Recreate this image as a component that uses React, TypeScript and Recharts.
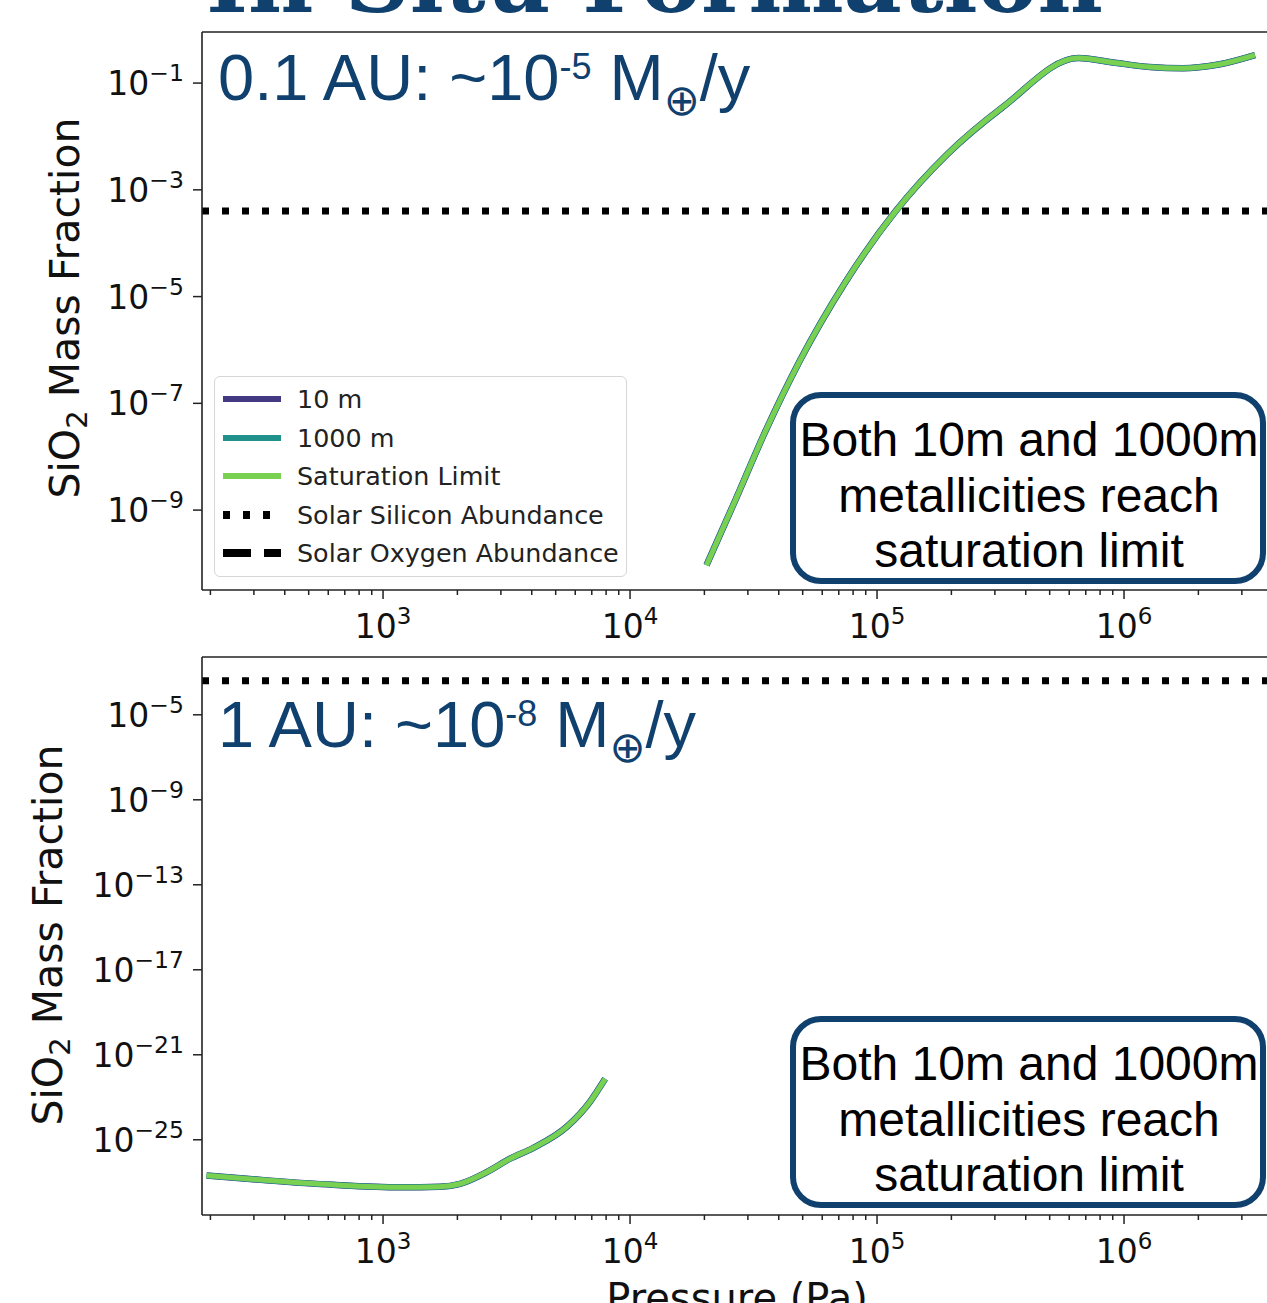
import React from 'react';
import { LineChart, Line, XAxis, YAxis, ReferenceLine } from 'recharts';

// 0.1 AU panel
const topPressure = [2.04e4, 2.66e4, 3.47e4, 4.88e4, 7.4e4, 1.19e5, 1.93e5, 3.23e5, 6.52e5, 9.38e5, 1.27e6, 1.73e6, 2.38e6, 3.39e6];
const topSaturation = [9.3e-11, 1.48e-9, 2.5e-8, 6.4e-7, 1.78e-5, 4.0e-4, 4.7e-3, 3.55e-2, 2.95e-1, 2.37e-1, 2.0e-1, 1.9e-1, 2.2e-1, 3.35e-1];
// 10 m and 1000 m runs lie right under the saturation limit
const top10m = [9.3e-11, 1.48e-9, 2.5e-8, 6.4e-7, 1.78e-5, 4.0e-4, 4.7e-3, 3.55e-2, 2.95e-1, 2.37e-1, 2.0e-1, 1.9e-1, 2.2e-1, 3.35e-1];
const top1000m = [9.3e-11, 1.48e-9, 2.5e-8, 6.4e-7, 1.78e-5, 4.0e-4, 4.7e-3, 3.55e-2, 2.95e-1, 2.37e-1, 2.0e-1, 1.9e-1, 2.2e-1, 3.35e-1];

// 1 AU panel
const bottomPressure = [193, 338, 628, 1172, 1702, 2051, 2630, 3266, 4064, 5546, 6887, 7925];
const bottomSaturation = [2.1e-27, 1.23e-27, 7.6e-28, 5.8e-28, 6.2e-28, 8.5e-28, 3.0e-27, 1.29e-26, 4.2e-26, 4.1e-25, 6.2e-24, 7.4e-23];
const bottom10m = [2.1e-27, 1.23e-27, 7.6e-28, 5.8e-28, 6.2e-28, 8.5e-28, 3.0e-27, 1.29e-26, 4.2e-26, 4.1e-25, 6.2e-24, 7.4e-23];
const bottom1000m = [2.1e-27, 1.23e-27, 7.6e-28, 5.8e-28, 6.2e-28, 8.5e-28, 3.0e-27, 1.29e-26, 4.2e-26, 4.1e-25, 6.2e-24, 7.4e-23];

const solarSilicon = 4e-4;

const xMajorTicks = [1e3, 1e4, 1e5, 1e6];
const xMinorMultipliers = [2, 3, 4, 5, 6, 7, 8, 9];
const xMinorDecades = [1e2, 1e3, 1e4, 1e5, 1e6];
const topYTicks = [1e-1, 1e-3, 1e-5, 1e-7, 1e-9];
const bottomYTicks = [1e-5, 1e-9, 1e-13, 1e-17, 1e-21, 1e-25];

const xDomain = [Math.pow(10, 2.267), Math.pow(10, 6.591)];
const topYDomain = [Math.pow(10, -10.497), Math.pow(10, -0.043)];
const bottomYDomain = [Math.pow(10, -28.54), Math.pow(10, -2.28)];

const legendItems = [
  { label: '10 m', color: '#443983', dash: '' },
  { label: '1000 m', color: '#21918c', dash: '' },
  { label: 'Saturation Limit', color: '#7ad151', dash: '' },
  { label: 'Solar Silicon Abundance', color: '#000', dash: '7 13' },
  { label: 'Solar Oxygen Abundance', color: '#000', dash: '28 13' },
];

const TICK_FONT = "'DejaVu Sans', sans-serif";
const TEXT_FONT = "'Liberation Sans', Arial, sans-serif";
const BLUE = '#0f406e';

const xTicks = [
  ...xMajorTicks,
  ...xMinorDecades.flatMap((d) => xMinorMultipliers.map((m) => m * d)).filter((v) => v > xDomain[0] && v < xDomain[1]),
].sort((a, b) => a - b);

const toRows = (p: number[], sat: number[], a: number[], b: number[]) =>
  p.map((v, i) => ({ p: v, sat: sat[i], m10: a[i], m1000: b[i] }));

const topData = toRows(topPressure, topSaturation, top10m, top1000m);
const bottomData = toRows(bottomPressure, bottomSaturation, bottom10m, bottom1000m);

const XTick = (props: any) => {
  const { x, y, payload } = props;
  const v = payload.value;
  const e = Math.round(Math.log10(v));
  const major = Math.abs(v / Math.pow(10, e) - 1) < 1e-6;
  return (
    <g>
      <line x1={x} x2={x} y1={y} y2={y + (major ? 9 : 5)} stroke="#222" strokeWidth={1.5} />
      {major && (
        <text x={x} y={y + 48} textAnchor="middle" fontFamily={TICK_FONT} fontSize={33} fill="#111">
          10<tspan fontSize={23} dy={-14}>{e}</tspan>
        </text>
      )}
    </g>
  );
};

const YTick = (props: any) => {
  const { x, y, payload } = props;
  const e = Math.round(Math.log10(payload.value));
  return (
    <g>
      <line x1={x - 9} x2={x} y1={y} y2={y} stroke="#222" strokeWidth={1.5} />
      <text x={x - 18} y={y + 12} textAnchor="end" fontFamily={TICK_FONT} fontSize={33} fill="#111">
        10<tspan fontSize={23.5} dy={-14}>{`\u2212${-e}`}</tspan>
      </text>
    </g>
  );
};

function Panel({ data, yDomain, yTicks, height, margin, xHeight }: any) {
  return (
    <LineChart width={1300} height={height} data={data} margin={margin}>
      <XAxis
        dataKey="p"
        type="number"
        scale="log"
        domain={xDomain}
        allowDataOverflow
        ticks={xTicks}
        interval={0}
        tick={<XTick />}
        tickLine={false}
        tickSize={0}
        tickMargin={0}
        height={xHeight}
        axisLine={{ stroke: '#222', strokeWidth: 1.6 }}
      />
      <XAxis
        xAxisId="frame"
        orientation="top"
        type="number"
        scale="log"
        domain={xDomain}
        allowDataOverflow
        tick={false}
        tickLine={false}
        height={1}
        axisLine={{ stroke: '#222', strokeWidth: 1.6 }}
      />
      <YAxis
        type="number"
        scale="log"
        domain={yDomain}
        allowDataOverflow
        ticks={yTicks}
        interval={0}
        tick={<YTick />}
        tickLine={false}
        tickSize={0}
        tickMargin={0}
        width={202}
        axisLine={{ stroke: '#222', strokeWidth: 1.6 }}
      />
      <ReferenceLine y={solarSilicon} stroke="#000" strokeWidth={7} strokeDasharray="7 13" />
      <Line type="monotone" dataKey="m10" stroke="#443983" strokeWidth={6.5} dot={false} isAnimationActive={false} />
      <Line type="monotone" dataKey="m1000" stroke="#21918c" strokeWidth={6} dot={false} isAnimationActive={false} />
      <Line type="monotone" dataKey="sat" stroke="#7ad151" strokeWidth={5} dot={false} isAnimationActive={false} />
    </LineChart>
  );
}

function Note({ top }: { top: number }) {
  const lines = ['Both 10m and 1000m', 'metallicities reach', 'saturation limit'];
  return (
    <g>
      <rect x={793} y={top} width={470} height={186} rx={28} fill="#fff" stroke={BLUE} strokeWidth={6} />
      {lines.map((l, i) => (
        <text key={l} x={1029} y={top + 61 + i * 55.5} textAnchor="middle" fontFamily={TEXT_FONT} fontSize={48} fill="#000">
          {l}
        </text>
      ))}
    </g>
  );
}

function RateLabel({ y, head, exp }: { y: number; head: string; exp: string }) {
  return (
    <text x={218} y={y} fontFamily={TEXT_FONT} fontSize={65} fill={BLUE}>
      {head}
      <tspan fontSize={36} dy={-21}>{exp}</tspan>
      <tspan dy={21}>{' M'}</tspan>
      <tspan fontFamily={TICK_FONT} fontSize={43} dy={15}>{'\u2295'}</tspan>
      <tspan dy={-15}>/y</tspan>
    </text>
  );
}

export default function App() {
  return (
    <div style={{ position: 'absolute', left: 0, top: 0, width: 1267, height: 1303, overflow: 'hidden', background: '#fff' }}>
      <div style={{ position: 'absolute', left: 0, top: 0 }}>
        <Panel data={topData} yDomain={topYDomain} yTicks={topYTicks} height={650} xHeight={60} margin={{ top: 31, right: 30, bottom: 0, left: 0 }} />
      </div>
      <div style={{ position: 'absolute', left: 0, top: 620 }}>
        <Panel data={bottomData} yDomain={bottomYDomain} yTicks={bottomYTicks} height={720} xHeight={88} margin={{ top: 36, right: 30, bottom: 37, left: 0 }} />
      </div>

      <svg width={1267} height={1303} style={{ position: 'absolute', left: 0, top: 0, pointerEvents: 'none' }}>
        <text x={206} y={12} fontFamily="'DejaVu Serif', serif" fontWeight="bold" fontSize={88} fill={BLUE} textLength={897} lengthAdjust="spacingAndGlyphs">
          In Situ Formation
        </text>
        <RateLabel y={100} head="0.1 AU: ~10" exp="-5" />
        <RateLabel y={747} head="1 AU: ~10" exp="-8" />
        <Note top={395} />
        <Note top={1019} />
        <text transform="rotate(-90 79 308)" x={79} y={308} textAnchor="middle" fontFamily={TICK_FONT} fontSize={41} fill="#111">
          SiO<tspan fontSize={29} dy={8}>2</tspan><tspan dy={-8}> Mass Fraction</tspan>
        </text>
        <text transform="rotate(-90 62 935)" x={62} y={935} textAnchor="middle" fontFamily={TICK_FONT} fontSize={41} fill="#111">
          SiO<tspan fontSize={29} dy={8}>2</tspan><tspan dy={-8}> Mass Fraction</tspan>
        </text>
        <text x={737} y={1312} textAnchor="middle" fontFamily={TICK_FONT} fontSize={40} fill="#111">
          Pressure (Pa)
        </text>
      </svg>

      <div
        style={{
          position: 'absolute',
          left: 214,
          top: 376,
          width: 411,
          height: 199,
          border: '1.5px solid #d6d6d6',
          borderRadius: 6,
          background: 'rgba(255,255,255,0.85)',
          fontFamily: TICK_FONT,
          fontSize: 25.4,
          color: '#222',
        }}
      >
        {legendItems.map((it, i) => (
          <div key={it.label} style={{ position: 'absolute', left: 0, top: 22 + i * 38.5 - 15, height: 30, width: '100%' }}>
            <svg width={60} height={30} style={{ position: 'absolute', left: 7, top: 0 }}>
              <line x1={1} x2={59} y1={15} y2={15} stroke={it.color} strokeWidth={it.dash ? 8 : 6} strokeDasharray={it.dash || undefined} />
            </svg>
            <span style={{ position: 'absolute', left: 82, top: 0, lineHeight: '30px', whiteSpace: 'nowrap' }}>{it.label}</span>
          </div>
        ))}
      </div>
    </div>
  );
}
